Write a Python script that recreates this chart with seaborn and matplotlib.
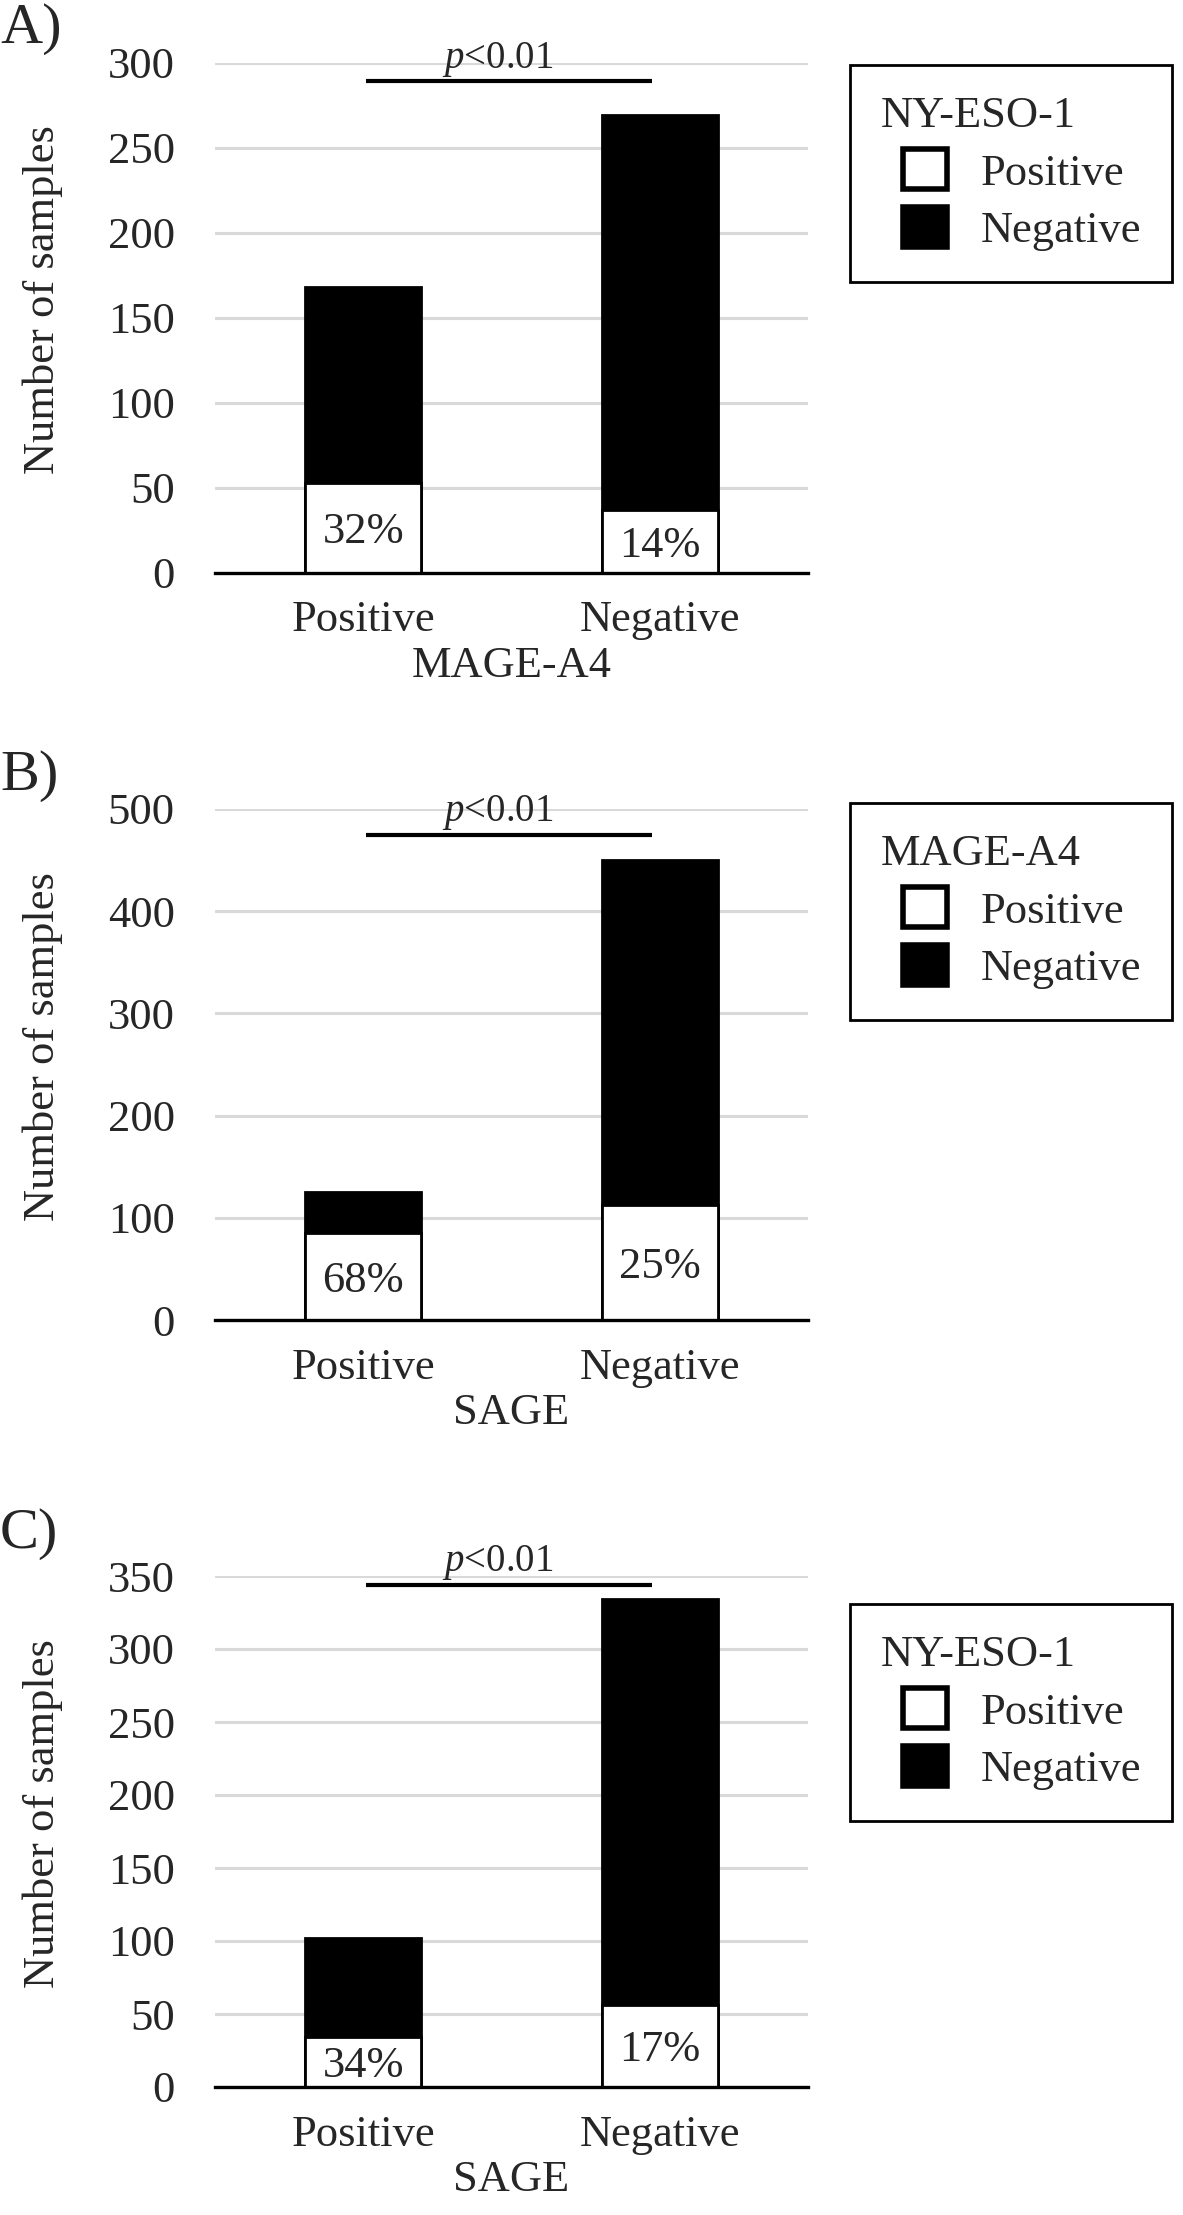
import matplotlib
matplotlib.use("Agg")
import matplotlib.pyplot as plt
import seaborn as sns
from matplotlib.patches import Patch
from matplotlib.legend_handler import HandlerPatch

categories = ["Positive", "Negative"]

# panel A: MAGE-A4 groups, split by NY-ESO-1
a_total = [168, 269]
a_pos = [53, 37]
a_pct = ["32%", "14%"]

# panel B: SAGE groups, split by MAGE-A4
b_total = [125, 450]
b_pos = [85, 113]
b_pct = ["68%", "25%"]

# panel C: SAGE groups, split by NY-ESO-1
c_total = [102, 334]
c_pos = [34, 56]
c_pct = ["34%", "17%"]

panel_tags = ["A)", "B)", "C)"]
x_titles = ["MAGE-A4", "SAGE", "SAGE"]
legend_titles = ["NY-ESO-1", "MAGE-A4", "NY-ESO-1"]
y_max = [300, 500, 350]
y_step = [50, 100, 50]
p_line = [289, 475, 344]
p_text = "$p$<0.01"

sns.set_style("white")
plt.rcParams["font.family"] = ["Liberation Serif", "DejaVu Serif"]
plt.rcParams["mathtext.fontset"] = "custom"
plt.rcParams["mathtext.rm"] = "Liberation Serif"
plt.rcParams["mathtext.it"] = "Liberation Serif:italic"

W, H = 1183, 2215
fig = plt.figure(figsize=(W / 100, H / 100), dpi=100)

# plot areas in pixels
ax_left, ax_right = 215, 808
ax_top = [62.7, 809, 1576]
ax_bot = [572.7, 1320, 2087]
tag_base = [43, 790, 1548]
leg_top = [65, 803, 1604]

panels = [(a_total, a_pos, a_pct), (b_total, b_pos, b_pct), (c_total, c_pos, c_pct)]

for i, (total, pos, pct) in enumerate(panels):
    ax = fig.add_axes([ax_left / W, 1 - ax_bot[i] / H,
                       (ax_right - ax_left) / W, (ax_bot[i] - ax_top[i]) / H])

    sns.barplot(x=categories, y=total, color="black", width=0.39, saturation=1,
                edgecolor="black", linewidth=2, errorbar=None, ax=ax)
    sns.barplot(x=categories, y=pos, color="white", width=0.39, saturation=1,
                edgecolor="black", linewidth=2, errorbar=None, ax=ax)

    for j, lab in enumerate(pct):
        ax.annotate(lab, (j, pos[j] / 2), xytext=(0, -11), textcoords="offset points",
                    ha="center", va="baseline", fontsize=32)

    ax.set_xlim(-0.5, 1.5)
    ax.set_ylim(0, y_max[i])
    ax.set_yticks(range(0, y_max[i] + 1, y_step[i]))
    ax.yaxis.grid(True, color="#d9d9d9", linewidth=2.2)
    ax.set_axisbelow(True)
    for s in ["left", "top", "right"]:
        ax.spines[s].set_visible(False)
    ax.spines["bottom"].set_color("black")
    ax.spines["bottom"].set_linewidth(2.4)
    ax.tick_params(axis="x", length=0, pad=20, labelsize=32)
    ax.tick_params(axis="y", length=0, pad=29, labelsize=32)

    ax.set_xlabel(x_titles[i], fontsize=32, labelpad=4)
    ax.set_ylabel("Number of samples", fontsize=32)
    ax.yaxis.set_label_coords((63 - ax_left) / (ax_right - ax_left), 0.536)

    # significance bar
    ax.plot([0.01, 0.975], [p_line[i], p_line[i]], color="black", lw=3,
            clip_on=False, solid_capstyle="butt")
    ax.annotate(p_text, (0.455, p_line[i]), xytext=(0, 10), textcoords="offset points",
                ha="center", va="baseline", fontsize=28, annotation_clip=False)

    fig.text(0, 1 - tag_base[i] / H, panel_tags[i], fontsize=42, ha="left", va="baseline")

    handles = [Patch(facecolor="white", edgecolor="black", linewidth=4),
               Patch(facecolor="black", edgecolor="black", linewidth=4)]
    leg = fig.legend(handles, categories, title=legend_titles[i], loc="upper left",
                     bbox_to_anchor=(850 / W, 1 - leg_top[i] / H), borderaxespad=0,
                     fontsize=32, title_fontsize=32, alignment="left", frameon=True,
                     fancybox=False, edgecolor="black", framealpha=1, borderpad=0.7,
                     handlelength=1.49, handleheight=1.0, handletextpad=0.75,
                     labelspacing=0.3,
                     handler_map={Patch: HandlerPatch(xpad=0.5)})
    leg.get_frame().set_linewidth(2)

fig.savefig("out.png", dpi=100)
